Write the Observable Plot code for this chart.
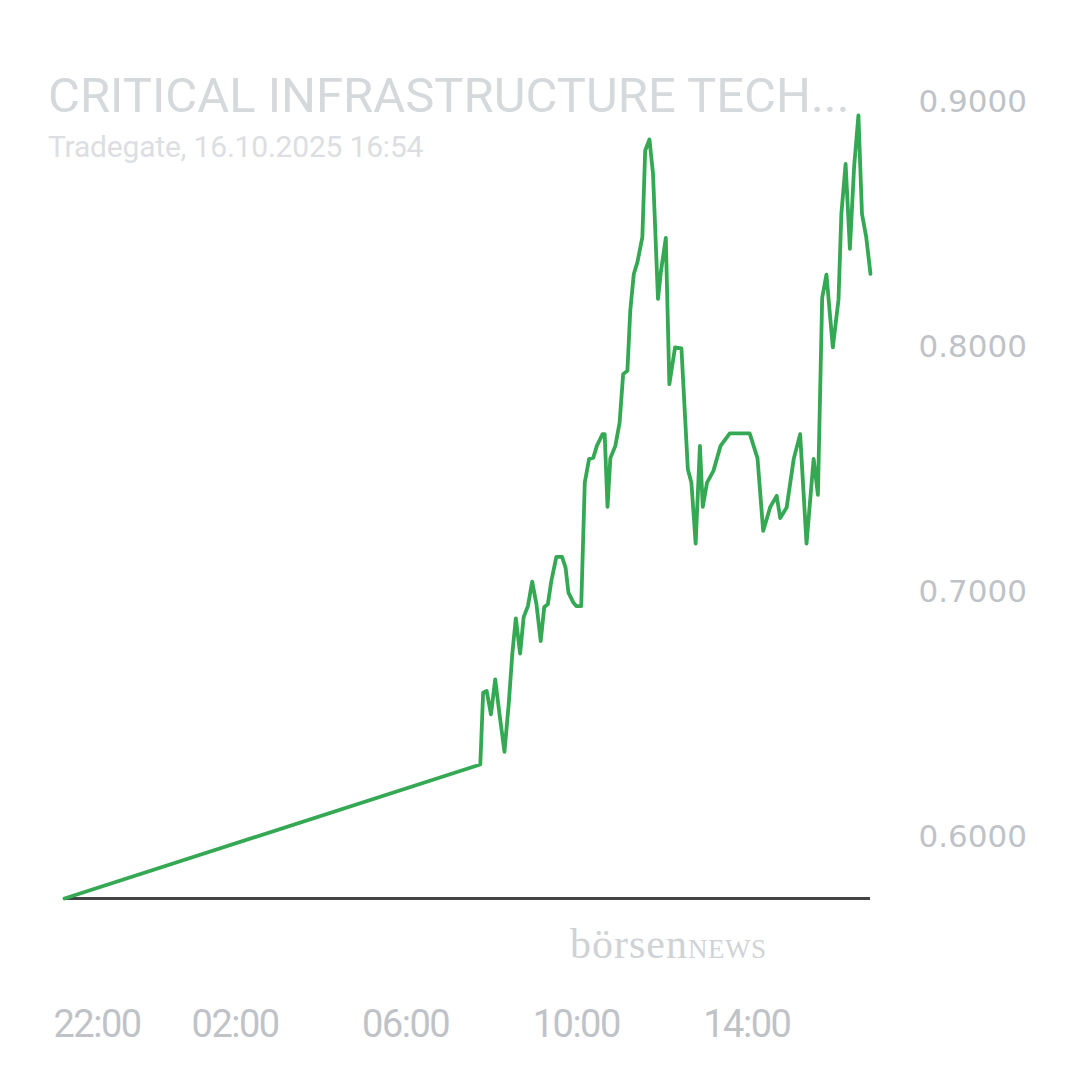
<!DOCTYPE html>
<html>
<head>
<meta charset="utf-8">
<script src="https://cdn.jsdelivr.net/npm/d3@7"></script>
<script src="https://cdn.jsdelivr.net/npm/@observablehq/plot@0.6"></script>
<style>
  html, body { margin: 0; padding: 0; background: #ffffff; }
  #wrap { position: relative; width: 1080px; height: 1080px; overflow: hidden; }
  #title { position: absolute; left: 48px; top: 71px; font-family: Roboto, sans-serif; font-size: 49px; line-height: 49px; color: #d6d9dc; letter-spacing: 0px; white-space: nowrap; }
  #subtitle { position: absolute; left: 48px; top: 132px; font-family: Roboto, sans-serif; font-size: 30px; line-height: 30px; color: #dcdee1; letter-spacing: -0.2px; white-space: nowrap; }
  #mark { position: absolute; left: 570px; top: 922px; font-family: "Liberation Serif", serif; color: #cfd3d6; white-space: nowrap; line-height: 44px; }
  #mark .a { font-size: 42px; letter-spacing: 1px; }
  #mark .b { font-size: 27px; letter-spacing: 0.5px; }
  #chart { position: absolute; left: 0; top: 0; }
  g[aria-label="x-axis tick label"] text { letter-spacing: -1.5px; }
</style>
</head>
<body>
<div id="wrap">
  <div id="chart"></div>
  <div id="title">CRITICAL INFRASTRUCTURE TECH...</div>
  <div id="subtitle">Tradegate, 16.10.2025 16:54</div>
  <div id="mark"><span class="a">börsen</span><span class="b">NEWS</span></div>
</div>
<script>
const times = [
  "2025-10-15T22:00", "2025-10-16T07:45", "2025-10-16T07:49", "2025-10-16T07:54", "2025-10-16T08:00",
  "2025-10-16T08:06", "2025-10-16T08:12", "2025-10-16T08:19", "2025-10-16T08:25", "2025-10-16T08:30",
  "2025-10-16T08:35", "2025-10-16T08:41", "2025-10-16T08:46", "2025-10-16T08:52", "2025-10-16T08:58",
  "2025-10-16T09:04", "2025-10-16T09:10", "2025-10-16T09:15", "2025-10-16T09:20", "2025-10-16T09:25",
  "2025-10-16T09:32", "2025-10-16T09:40", "2025-10-16T09:45", "2025-10-16T09:49", "2025-10-16T09:56",
  "2025-10-16T10:00", "2025-10-16T10:07", "2025-10-16T10:12", "2025-10-16T10:18", "2025-10-16T10:24",
  "2025-10-16T10:29", "2025-10-16T10:37", "2025-10-16T10:40", "2025-10-16T10:44", "2025-10-16T10:48",
  "2025-10-16T10:55", "2025-10-16T11:01", "2025-10-16T11:06", "2025-10-16T11:12", "2025-10-16T11:16",
  "2025-10-16T11:21", "2025-10-16T11:26", "2025-10-16T11:33", "2025-10-16T11:37", "2025-10-16T11:43",
  "2025-10-16T11:48", "2025-10-16T11:55", "2025-10-16T11:59", "2025-10-16T12:06", "2025-10-16T12:11",
  "2025-10-16T12:19", "2025-10-16T12:28", "2025-10-16T12:37", "2025-10-16T12:42", "2025-10-16T12:48",
  "2025-10-16T12:54", "2025-10-16T12:58", "2025-10-16T13:04", "2025-10-16T13:13", "2025-10-16T13:23",
  "2025-10-16T13:36", "2025-10-16T14:04", "2025-10-16T14:15", "2025-10-16T14:23", "2025-10-16T14:33",
  "2025-10-16T14:42", "2025-10-16T14:47", "2025-10-16T14:56", "2025-10-16T15:06", "2025-10-16T15:15",
  "2025-10-16T15:24", "2025-10-16T15:34", "2025-10-16T15:40", "2025-10-16T15:46", "2025-10-16T15:52",
  "2025-10-16T16:01", "2025-10-16T16:09", "2025-10-16T16:13", "2025-10-16T16:19", "2025-10-16T16:25",
  "2025-10-16T16:31", "2025-10-16T16:37", "2025-10-16T16:42", "2025-10-16T16:48", "2025-10-16T16:54"
];
const prices = [
  0.5750, 0.6297, 0.6590, 0.6597, 0.6502,
  0.6645, 0.6503, 0.6349, 0.6544, 0.6748,
  0.6894, 0.6750, 0.6899, 0.6944, 0.7044,
  0.6951, 0.6801, 0.6940, 0.6951, 0.7047,
  0.7145, 0.7145, 0.7101, 0.6999, 0.6958,
  0.6944, 0.6944, 0.7448, 0.7544, 0.7550,
  0.7598, 0.7646, 0.7646, 0.7349, 0.7548,
  0.7598, 0.7693, 0.7891, 0.7905, 0.8150,
  0.8300, 0.8347, 0.8450, 0.8804, 0.8849,
  0.8709, 0.8198, 0.8307, 0.8447, 0.7850,
  0.8000, 0.7996, 0.7503, 0.7448, 0.7199,
  0.7598, 0.7349, 0.7448, 0.7496, 0.7598,
  0.7649, 0.7649, 0.7548, 0.7251, 0.7349,
  0.7394, 0.7303, 0.7346, 0.7545, 0.7646,
  0.7199, 0.7545, 0.7398, 0.8202, 0.8297,
  0.8000, 0.8196, 0.8545, 0.8749, 0.8402,
  0.8740, 0.8947, 0.8545, 0.8450, 0.8300
];
const xTicks = ["2025-10-15T22:00", "2025-10-16T02:00", "2025-10-16T06:00", "2025-10-16T10:00", "2025-10-16T14:00"];
const yTicks = [0.6, 0.7, 0.8, 0.9];
const xStart = "2025-10-15T22:00";
const xEnd = "2025-10-16T16:54";
const yMin = 0.575;
const yMax = 0.9;

const data = times.map((t, i) => ({time: new Date(t), price: prices[i]}));
const tickDates = xTicks.map(t => new Date(t));
const fmt = d3.timeFormat("%H:%M");

const chart = Plot.plot({
  width: 1080,
  height: 1080,
  marginLeft: 64,
  marginRight: 210,
  marginTop: 102,
  marginBottom: 182,
  x: {type: "time", domain: [new Date(xStart), new Date(xEnd)], label: null},
  y: {domain: [yMin, yMax], label: null},
  marks: [
    Plot.ruleY([yMin], {stroke: "#444444", strokeWidth: 3}),
    Plot.line(data, {x: "time", y: "price", stroke: "#35a853", strokeWidth: 3.8}),
    Plot.axisY(yTicks, {anchor: "right", label: null, tickSize: 0, tickPadding: 48, tickFormat: d => d.toFixed(4), fontSize: 31, fontFamily: "DejaVu Sans", fill: "#bfc3c8"}),
    Plot.axisX(tickDates.slice(0, 1), {anchor: "bottom", label: null, tickSize: 0, tickPadding: 112, tickFormat: fmt, fontSize: 38, fontFamily: "Roboto", fill: "#bfc3c8", textAnchor: "start", dx: -11}),
    Plot.axisX(tickDates.slice(1), {anchor: "bottom", label: null, tickSize: 0, tickPadding: 112, tickFormat: fmt, fontSize: 38, fontFamily: "Roboto", fill: "#bfc3c8"})
  ]
});
document.getElementById("chart").appendChild(chart);
</script>
</body>
</html>
